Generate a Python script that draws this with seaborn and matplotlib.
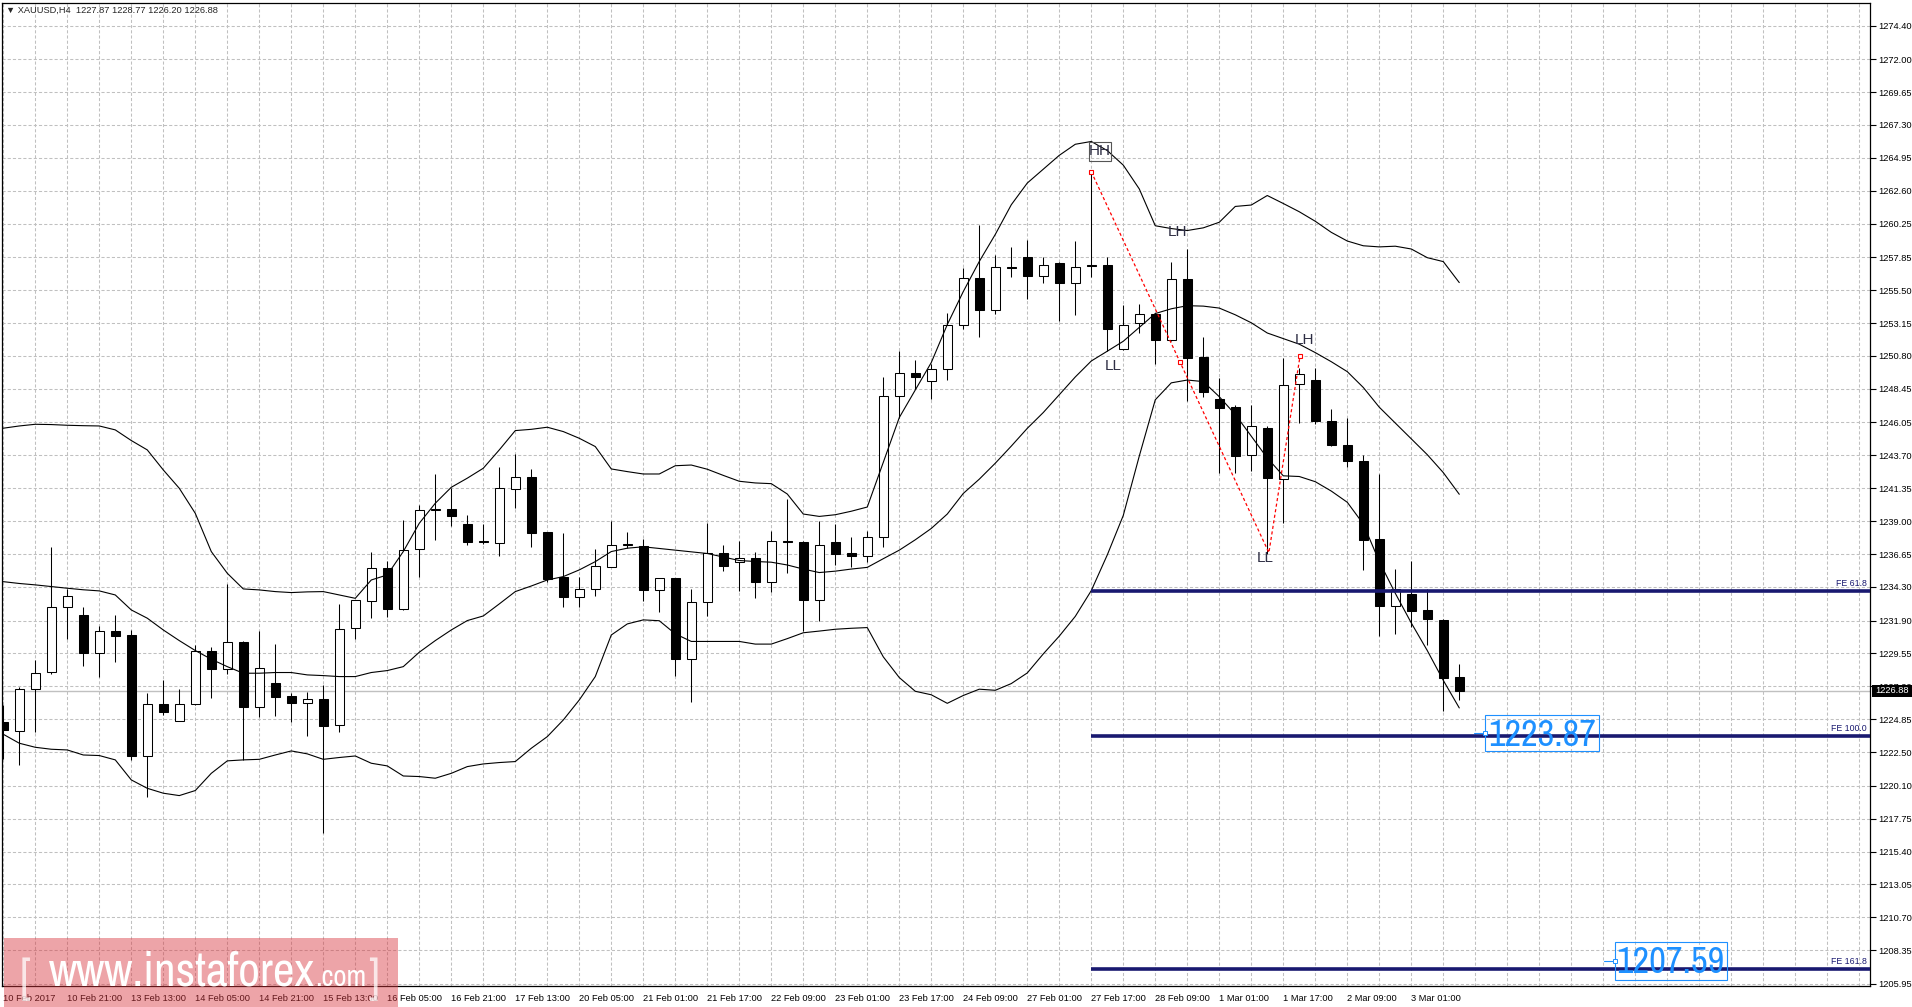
import numpy as np
import pandas as pd
import matplotlib
matplotlib.use('Agg')
import matplotlib.pyplot as plt
import matplotlib.patches as mpatches
import matplotlib.transforms as mtransforms
from matplotlib import font_manager
from matplotlib.font_manager import FontProperties
import seaborn as sns

# --- XAUUSD H4 candles ---
opens = [1224.64, 1224.04, 1227.00, 1228.21, 1232.85, 1232.30, 1229.61, 1231.19, 1230.88, 1222.23,
         1225.95, 1224.76, 1225.93, 1229.73, 1228.42, 1230.35, 1225.76, 1227.42, 1226.52, 1226.00,
         1226.28, 1224.45, 1231.35, 1233.28, 1235.64, 1232.75, 1236.99, 1239.80, 1239.87, 1238.78,
         1237.56, 1237.47, 1241.28, 1242.14, 1238.21, 1235.00, 1233.61, 1234.19, 1235.76, 1237.30,
         1237.25, 1234.05, 1234.91, 1229.18, 1233.22, 1236.76, 1236.07, 1236.39, 1234.64, 1237.55,
         1237.50, 1233.37, 1237.50, 1236.71, 1236.49, 1237.84, 1247.93, 1249.55, 1248.98, 1249.84,
         1253.04, 1256.36, 1254.05, 1257.13, 1257.84, 1256.48, 1257.42, 1256.03, 1257.28, 1257.28,
         1251.28, 1253.12, 1253.77, 1251.91, 1256.29, 1250.72, 1247.72, 1247.16, 1243.74, 1245.69,
         1242.04, 1248.78, 1249.06, 1246.15, 1244.45, 1243.32, 1237.75, 1232.95, 1233.77, 1232.64,
         1231.96, 1227.87]
highs = [1225.87, 1227.19, 1229.09, 1237.18, 1234.14, 1232.85, 1231.52, 1232.30, 1231.23, 1226.71,
         1227.66, 1227.02, 1230.16, 1229.99, 1234.52, 1230.47, 1231.16, 1230.23, 1226.76, 1226.80,
         1227.30, 1233.09, 1233.40, 1236.80, 1236.14, 1239.09, 1240.14, 1242.37, 1241.35, 1239.45,
         1238.78, 1242.90, 1243.80, 1242.73, 1238.25, 1238.14, 1235.00, 1237.02, 1239.02, 1238.21,
         1237.71, 1234.95, 1234.95, 1234.15, 1238.85, 1237.30, 1237.60, 1236.81, 1238.28, 1240.57,
         1237.60, 1239.02, 1238.78, 1237.84, 1238.33, 1249.30, 1251.15, 1250.51, 1250.21, 1253.90,
         1257.10, 1260.17, 1258.01, 1258.60, 1259.06, 1257.90, 1257.50, 1259.00, 1263.96, 1257.84,
         1254.45, 1254.51, 1253.88, 1257.50, 1258.46, 1252.19, 1249.22, 1247.33, 1247.33, 1245.80,
         1250.66, 1249.96, 1249.96, 1246.98, 1246.35, 1243.75, 1242.39, 1235.61, 1236.17, 1234.19,
         1232.00, 1228.77]
lows = [1222.00, 1221.59, 1223.97, 1228.10, 1230.56, 1228.68, 1227.90, 1228.97, 1221.95, 1219.33,
        1225.16, 1224.76, 1225.90, 1226.40, 1228.09, 1221.95, 1225.04, 1225.09, 1224.68, 1223.68,
        1216.71, 1223.97, 1230.59, 1232.09, 1232.14, 1232.66, 1235.04, 1237.66, 1238.66, 1237.30,
        1237.37, 1236.54, 1239.92, 1237.18, 1234.68, 1232.90, 1232.85, 1233.68, 1235.70, 1237.07,
        1233.30, 1232.50, 1227.95, 1226.11, 1232.26, 1235.46, 1233.98, 1233.54, 1233.91, 1235.33,
        1231.15, 1231.89, 1235.87, 1235.70, 1236.07, 1237.18, 1246.40, 1248.42, 1247.75, 1249.11,
        1252.75, 1252.18, 1253.83, 1256.43, 1254.90, 1255.98, 1253.32, 1253.69, 1256.43, 1251.14,
        1251.20, 1252.41, 1250.21, 1251.85, 1247.61, 1247.89, 1242.47, 1242.47, 1242.61, 1236.64,
        1238.85, 1246.01, 1245.95, 1244.40, 1242.84, 1235.49, 1230.80, 1230.97, 1231.45, 1230.18,
        1225.43, 1226.20]
closes = [1224.09, 1227.00, 1228.14, 1232.85, 1233.68, 1229.61, 1231.16, 1230.83, 1222.23, 1225.95,
          1225.40, 1225.95, 1229.73, 1228.42, 1230.35, 1225.76, 1228.49, 1226.47, 1226.00, 1226.28,
          1224.40, 1231.28, 1233.37, 1235.64, 1232.75, 1236.92, 1239.80, 1239.85, 1239.40, 1237.54,
          1237.52, 1241.35, 1242.14, 1238.18, 1234.90, 1233.61, 1234.19, 1235.80, 1237.28, 1237.35,
          1234.05, 1234.91, 1229.18, 1233.22, 1236.76, 1235.78, 1236.39, 1234.64, 1237.55, 1237.50,
          1233.37, 1237.30, 1236.69, 1236.49, 1237.84, 1247.93, 1249.55, 1249.28, 1249.84, 1253.04,
          1256.36, 1254.07, 1257.13, 1257.10, 1256.54, 1257.28, 1256.03, 1257.13, 1257.20, 1252.75,
          1253.04, 1253.77, 1251.91, 1256.29, 1250.66, 1248.23, 1247.10, 1243.65, 1245.77, 1242.10,
          1248.74, 1249.54, 1246.15, 1244.45, 1243.32, 1237.67, 1232.95, 1234.19, 1232.58, 1232.02,
          1227.83, 1226.88]

# --- Bollinger bands as drawn ---
bb_upper = [1245.64, 1245.80, 1245.92, 1245.90, 1245.85, 1245.82, 1245.80, 1245.52, 1244.76, 1244.09,
            1242.66, 1241.35, 1239.56, 1236.83, 1235.28, 1234.16, 1234.09, 1233.97, 1233.90, 1233.95,
            1233.97, 1233.73, 1233.49, 1234.80, 1235.16, 1236.83, 1238.85, 1240.28, 1241.42, 1242.07,
            1242.78, 1244.09, 1245.47, 1245.56, 1245.71, 1245.40, 1244.92, 1244.33, 1242.73, 1242.54,
            1242.37, 1242.37, 1242.96, 1243.01, 1242.71, 1242.27, 1241.85, 1241.73, 1241.68, 1240.94,
            1239.51, 1239.34, 1239.46, 1239.71, 1240.01, 1243.20, 1246.40, 1248.37, 1250.33, 1253.04,
            1255.40, 1257.55, 1259.48, 1261.60, 1263.15, 1264.14, 1265.13, 1265.92, 1266.12, 1265.47,
            1264.43, 1262.73, 1260.10, 1259.90, 1259.76, 1259.95, 1260.35, 1261.48, 1261.58, 1262.26,
            1261.69, 1261.10, 1260.42, 1259.63, 1259.01, 1258.67, 1258.59, 1258.64, 1258.44, 1257.82,
            1257.54, 1256.04]
bb_middle = [1234.68, 1234.55, 1234.45, 1234.33, 1234.21, 1234.10, 1234.02, 1233.73, 1232.66, 1232.07,
             1231.23, 1230.47, 1229.76, 1229.14, 1228.61, 1228.14, 1228.14, 1228.19, 1228.19, 1228.02,
             1227.97, 1227.90, 1227.90, 1228.19, 1228.33, 1228.61, 1229.64, 1230.47, 1231.23, 1231.90,
             1232.23, 1233.09, 1233.97, 1234.37, 1234.80, 1235.04, 1235.52, 1236.11, 1236.83, 1237.07,
             1237.17, 1237.05, 1236.93, 1236.81, 1236.69, 1236.44, 1236.19, 1236.12, 1236.07, 1235.87,
             1235.58, 1235.33, 1235.43, 1235.58, 1235.70, 1236.32, 1236.93, 1237.67, 1238.48, 1239.51,
             1240.98, 1242.00, 1243.14, 1244.36, 1245.63, 1246.76, 1248.03, 1249.30, 1250.44, 1251.14,
             1251.85, 1252.84, 1253.83, 1254.17, 1254.39, 1254.36, 1254.22, 1253.74, 1253.17, 1252.44,
             1252.04, 1251.64, 1251.04, 1250.39, 1249.68, 1248.55, 1247.14, 1246.01, 1244.88, 1243.75,
             1242.47, 1240.92]
bb_lower = [1223.78, 1223.14, 1222.85, 1222.71, 1222.66, 1222.30, 1222.26, 1221.95, 1220.52, 1219.92,
            1219.57, 1219.40, 1219.76, 1220.99, 1221.88, 1221.95, 1221.99, 1222.30, 1222.59, 1222.38,
            1221.99, 1222.12, 1222.23, 1221.71, 1221.52, 1220.80, 1220.76, 1220.64, 1220.99, 1221.47,
            1221.66, 1221.76, 1221.83, 1222.78, 1223.61, 1224.80, 1226.23, 1227.90, 1230.87, 1231.66,
            1231.95, 1231.89, 1230.95, 1230.41, 1230.41, 1230.41, 1230.41, 1230.22, 1230.22, 1230.61,
            1231.03, 1231.15, 1231.28, 1231.35, 1231.40, 1229.31, 1227.83, 1226.85, 1226.60, 1225.99,
            1226.55, 1227.00, 1226.92, 1227.40, 1228.16, 1229.52, 1230.79, 1232.20, 1234.04, 1236.59,
            1239.41, 1243.65, 1247.67, 1248.88, 1249.08, 1248.97, 1247.89, 1246.62, 1245.07, 1243.51,
            1242.24, 1242.19, 1241.82, 1241.15, 1240.35, 1238.80, 1236.12, 1233.85, 1231.73, 1229.76,
            1227.63, 1225.66]

x_labels = ['10 Feb 2017', '10 Feb 21:00', '13 Feb 13:00', '14 Feb 05:00', '14 Feb 21:00',
            '15 Feb 13:00', '16 Feb 05:00', '16 Feb 21:00', '17 Feb 13:00', '20 Feb 05:00',
            '21 Feb 01:00', '21 Feb 17:00', '22 Feb 09:00', '23 Feb 01:00', '23 Feb 17:00',
            '24 Feb 09:00', '27 Feb 01:00', '27 Feb 17:00', '28 Feb 09:00', '1 Mar 01:00',
            '1 Mar 17:00', '2 Mar 09:00', '3 Mar 01:00']
y_ticks = [1274.40, 1272.00, 1269.65, 1267.30, 1264.95, 1262.60, 1260.25, 1257.85, 1255.50, 1253.15,
           1250.80, 1248.45, 1246.05, 1243.70, 1241.35, 1239.00, 1236.65, 1234.30, 1231.90, 1229.55,
           1227.20, 1224.85, 1222.50, 1220.10, 1217.75, 1215.40, 1213.05, 1210.70, 1208.35, 1205.95]

# Fibonacci expansion: three anchor points and the level lines
fe_idx = [68, 79.1, 81.05]
fe_price = [1263.96, 1236.75, 1250.81]
fe_levels = [1234.03, 1223.66, 1207.02]
fe_names = ['FE 61.8', 'FE 100.0', 'FE 161.8']
target_text = ['1223.87', '1207.59']
target_baseline = [1222.95, 1206.72]
target_box = [(92.6, 99.71, 1222.59, 1225.19), (100.71, 107.73, 1206.23, 1208.92)]

# swing labels (text, candle position, price)
wave_text = ['HH', 'LH', 'LL', 'LH', 'LL']
wave_idx = [68.5, 73.4, 69.4, 81.3, 78.85]
wave_price = [1265.45, 1259.66, 1250.09, 1251.91, 1236.37]

sns.set_style('white')
installed = {f.name for f in font_manager.fontManager.ttflist}
BASE = 'Liberation Sans' if 'Liberation Sans' in installed else 'DejaVu Sans'
plt.rcParams['font.family'] = [BASE, 'DejaVu Sans']


def narrow_font():
    # look for any installed narrow / condensed regular face
    best, best_rank = None, 99
    for f in font_manager.fontManager.ttflist:
        if f.style != 'normal' or f.weight not in (400, 'normal', 'regular', 'book'):
            continue
        st = str(f.stretch)
        if 'Narrow' in f.name:
            rank = 0
        elif st == 'condensed' or 'Condensed' in f.name and 'Extra' not in f.name and 'Semi' not in f.name:
            rank = 1
        elif st == 'semi-condensed' or 'SemiCondensed' in f.name:
            rank = 2
        else:
            continue
        if rank < best_rank:
            best, best_rank = f.fname, rank
    return FontProperties(fname=best) if best else FontProperties(family=BASE)


NARROW = narrow_font()

W, H = 1912, 1007
fig = plt.figure(figsize=(W / 100, H / 100), dpi=100)
fig.patch.set_facecolor('white')
ax = fig.add_axes([2 / W, 1 - 986 / H, 1868 / W, 983 / H])
XMAX, YMIN, YMAX = 116.67, 1205.80, 1276.01
ax.set_xlim(-0.08, XMAX)
ax.set_ylim(YMIN, YMAX)

df = pd.DataFrame({'o': opens, 'h': highs, 'l': lows, 'c': closes})
df['i'] = np.arange(len(df))
up = df['c'] >= df['o']
body_lo = df[['o', 'c']].min(axis=1)
body_h = (df['c'] - df['o']).abs().clip(lower=0.06)

ax.axhline(closes[-1], color='#c0c0c0', lw=1, zorder=1)
ax.vlines(df['i'], df['l'], df['h'], color='black', lw=0.75, zorder=3)
ax.bar(df['i'], body_h, bottom=body_lo, width=0.58,
       color=np.where(up, 'white', 'black'), edgecolor='black', linewidth=0.75, zorder=4)

bands = pd.DataFrame({'i': df['i'], 'upper': bb_upper, 'middle': bb_middle, 'lower': bb_lower})
bands = bands.melt(id_vars='i', var_name='band', value_name='price')
sns.lineplot(data=bands, x='i', y='price', units='band', estimator=None,
             color='black', lw=0.8, ax=ax, zorder=5)

# fibo expansion
ax.hlines(fe_levels, fe_idx[0], XMAX, color='#191970', lw=2.6, zorder=6)
blend = mtransforms.blended_transform_factory(ax.transAxes, ax.transData)
for lvl, name in zip(fe_levels, fe_names):
    ax.text(0.9982, lvl + 0.22, name, transform=blend, ha='right', va='bottom',
            fontsize=6.3, color='#191970', zorder=7)
ax.plot(fe_idx, fe_price, color='red', lw=0.9, ls=(0, (2.5, 2)), zorder=7)
mid_i = (fe_idx[0] + fe_idx[1]) / 2
mid_p = (fe_price[0] + fe_price[1]) / 2
ax.plot([fe_idx[0], mid_i, fe_idx[2]], [fe_price[0], mid_p, fe_price[2]], ls='none',
        marker='s', ms=3.2, mfc='white', mec='red', mew=0.8, zorder=8)

renderer = fig.canvas.get_renderer()
for s, yb, (x0, x1, y0, y1), lvl in zip(target_text, target_baseline, target_box, fe_levels[1:]):
    t = ax.text((x0 + x1) / 2, yb, s, ha='center', va='baseline', color='#1e90ff',
                fontproperties=NARROW, fontsize=26, zorder=8)
    t.set_fontsize(26 * 108 / t.get_window_extent(renderer).width)
    ax.add_patch(mpatches.Rectangle((x0, y0), x1 - x0, y1 - y0, fill=False,
                                    edgecolor='#1e90ff', lw=0.8, zorder=8))
    ax.plot([x0 - 0.65, x0], [yb + 0.9, yb + 0.9], color='#1e90ff', lw=0.8, zorder=8)
    ax.plot([x0], [yb + 0.9], marker='s', ms=2.5, mfc='white', mec='#1e90ff', mew=0.7, zorder=9)

for s, xi, yp in zip(wave_text, wave_idx, wave_price):
    ax.text(xi, yp, s, ha='center', va='center', fontsize=11, color='#2e2e44', zorder=8)
ax.add_patch(mpatches.Rectangle((67.84, 1264.76), 1.37, 1.30, fill=False,
                                edgecolor='#555555', lw=0.8, zorder=8))

ax.set_xlabel('')
ax.set_ylabel('')
ax.set_xticks(range(0, 89, 4), labels=x_labels)
ax.set_xticks(range(0, 117, 2), minor=True)
for lab in ax.get_xticklabels():
    lab.set_ha('left')
ax.tick_params(axis='x', which='major', direction='out', length=4, width=0.8, pad=2,
               labelsize=6.7, colors='black')
ax.tick_params(axis='x', which='minor', length=0)
ax.yaxis.tick_right()
ax.set_yticks(y_ticks, labels=[f'{v:.2f}' for v in y_ticks])
ax.tick_params(axis='y', direction='out', length=4, width=0.8, pad=2, labelsize=6.7, colors='black')
ax.grid(which='both', axis='x', color='#c0c0c0', ls=(0, (3, 2)), lw=0.75)
ax.grid(which='major', axis='y', color='#c0c0c0', ls=(0, (3, 2)), lw=0.75)
ax.set_axisbelow(True)
for sp in ax.spines.values():
    sp.set_visible(True)
    sp.set_color('black')
    sp.set_linewidth(0.9)

# current price tag on the right scale
y_px = ax.transData.transform((0, closes[-1]))[1]
fig.add_artist(mpatches.Rectangle((1871.5 / W, (y_px - 6) / H), 40 / W, 12 / H,
                                  transform=fig.transFigure, facecolor='black',
                                  edgecolor='none', zorder=10))
fig.text(1875 / W, y_px / H, f'{closes[-1]:.2f}', color='white', fontsize=6.7,
         ha='left', va='center', zorder=11)

fig.text(6 / W, 1 - 10 / H,
         f'\u25bc XAUUSD,H4  {opens[-1]:.2f} {highs[-1]:.2f} {lows[-1]:.2f} {closes[-1]:.2f}',
         fontsize=6.7, ha='left', va='center', zorder=11)

# watermark
fig.add_artist(mpatches.Rectangle((3.7 / W, 0), 393.8 / W, 69.3 / H, transform=fig.transFigure,
                                  facecolor='#d9363e', alpha=0.45, edgecolor='none', zorder=20))
base_y = 1 - 986 / H
wm_main = fig.text(49 / W, base_y, 'www.instaforex', color='white', fontproperties=NARROW,
                   fontsize=34, ha='left', va='baseline', zorder=21)
wm_main.set_fontsize(34 * 266 / wm_main.get_window_extent(renderer).width)
wm_com = fig.text(315 / W, base_y, '.com', color='white', fontproperties=NARROW,
                  fontsize=20, ha='left', va='baseline', zorder=21)
wm_com.set_fontsize(20 * 51 / wm_com.get_window_extent(renderer).width)
for s, xx in [('[', 20), (']', 368)]:
    fig.text(xx / W, 1 - 993 / H, s, color='white', alpha=0.75, fontproperties=NARROW,
             fontsize=wm_main.get_fontsize(), ha='left', va='baseline', zorder=21)

fig.savefig('out.png', dpi=100)
